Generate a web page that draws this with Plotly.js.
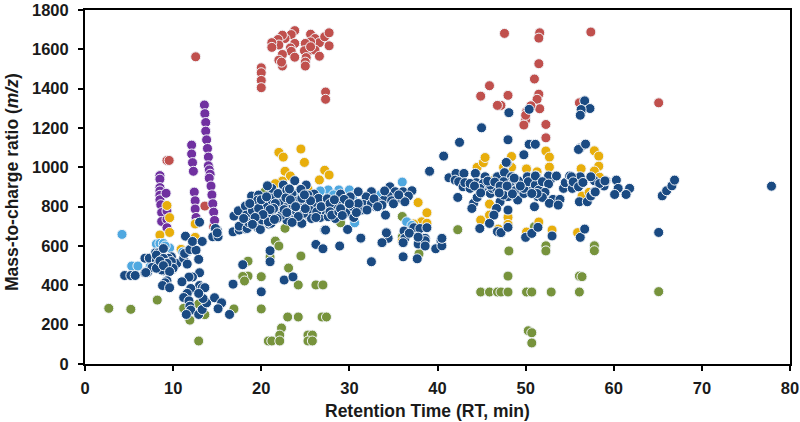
<!DOCTYPE html>
<html>
<head>
<meta charset="utf-8">
<script src="https://cdn.plot.ly/plotly-3.0.1.min.js"></script>
<style>html,body{margin:0;padding:0;background:#fff}</style>
</head>
<body>
<div id="chart" style="width:800px;height:422px"></div>
<script>
const redPoints = [[12.56,1562],[9.3,1035],[9.55,1035],[20,1506],[20,1481],[20,1442],[20,1405],
  [23.8,1695],[23.4,1675],[22.7,1655],[22.4,1672],[21.9,1650],[22,1622],[21.2,1634],[21.2,1610],[23.8,1630],[23.3,1607],[23.4,1590],[22.4,1574],[22,1545],[22.4,1515],[22.3,1535],[23.8,1560],
  [25.6,1677],[26.1,1655],[26.6,1634],[25.6,1638],[25.6,1596],[25,1630],[24.9,1593],[25.1,1558],[25,1535],[25,1515],[26.1,1596],[26.6,1565],[25.6,1613],[27.2,1664],[27.7,1684],[27.7,1618],[27.3,1383],[27.3,1346],
  [47.6,1681],[51.6,1684],[51.5,1657],[51.5,1527],[51,1449],[51.5,1372],[51.3,1346],[51.6,1298],[50.6,1313],[50.1,1282],[50,1240],[49.8,1215],[50,1265],[52.3,1218],[52.3,1150],[45.9,1415],[44.9,1362],[48,1366],[47.2,1315],[46.8,1315],[65.1,1328],[56.1,1328],[57.4,1688],[13.6,803],[14.6,698]];

const purplePoints = [[13.55,1317],[13.6,1273],[13.7,1228],[13.7,1184],[13.8,1140],[13.9,1096],[14,1052],[14,1008],[14.1,987],[14.2,965],[14.1,945],[14.3,905],[14.4,860],[14.5,815],[14.6,772],[14.7,730],
  [12.1,1113],[12.1,1068],[12.2,1024],[12.3,980],[12.4,874],[12.5,830],[12.5,788],[12.6,745],[12.6,715],
  [8.5,958],[8.5,940],[8.5,897],[8.5,880],[8.5,858],[8.5,835],[8.6,810],[8.7,770],[8.7,725],[9.2,868],[9.3,778],[9.3,735],[9.3,693]];

const greenPoints = [[2.7,283],[5.2,278],[8.2,325],[11.2,283],[11.9,223],[12.9,117],[13.6,251],[12.9,305],[16.9,280],[20,280],[20,444],[18.5,523],[18.5,447],[17.9,445],[18.1,422],[21,544],[21.6,625],[22,600],[24.5,549],[23.1,488],[24.2,402],[26.2,402],[27,402],[23,239],[24.2,239],[26.9,239],[27.4,239],[22.3,183],[22.1,147],[20.8,117],[21.2,117],[22.1,117],[25.3,147],[25.8,147],[25.3,117],[25.8,117],[22.7,690],[20.4,875],
  [29,718],[36,750],[36,645],[37.9,560],[42.3,683],[48.1,575],[48,447],[44.9,366],[45.9,366],[46.8,366],[47.2,366],[48,366],[50.1,366],[50.7,366],[52.9,366],[56.1,366],[56.1,447],[50.3,169],[50.7,159],[50.7,107],[52.3,601],[52.3,575],[51,698],[57.8,601],[57.8,576],[56.4,444],[65.1,368]];

const yellowPoints = [[9.3,806],[9.6,744],[9.6,669],[8.5,656],[10.9,583],[12.5,712],[12.5,644],[22,1076],[22.5,1052],[24.5,1093],[24.9,1025],[22.7,980],[23.3,956],[22.4,930],[26.6,936],[27.2,985],[21.6,917],[27.7,961],[25.3,890],[19.2,830],[17.6,760],
  [44.5,1000],[45.2,1024],[45.4,1050],[48.4,1055],[48.4,1000],[50.1,992],[47.5,1000],[51.3,977],[52.3,1083],[52.7,1052],[52.7,1001],[46.6,945],
  [37.8,821],[38.8,769],[38.2,723],[38.8,716],[37.3,712],[36,625],[45.9,813],[45.9,757],[44.9,732],[48,746],[46.9,686],[50.1,671],[51.5,722],[53,681],[48,710],
  [57.8,1084],[58.3,1057],[58.3,1006],[56.3,993],[57.8,981],[58.4,950],[56.4,854],[57.2,873],[55.9,668]];

const lightBluePoints = [[4.2,659],[5.3,498],[6,498],[8.1,610],[8.5,613],[8.9,613],[9.6,590],[11.1,569],[11.6,569],[9.3,488],[7.4,495],[9.1,600],
  [27.6,885],[28.8,885],[30,885],[36,925],[30.4,854],[30.6,718],[33.5,859],[36.5,723],[28.2,860],[31.5,818],[26.7,880],[24.2,870],[37.1,705]];

const bluePoints = [
  // first group, around 10 min
  [4.5,450],[5.2,450],[5.7,450],[6.8,464],[7.1,467],[6.8,538],[7.3,538],[8,565],[8.3,565],[8.9,587],[8.5,528],[8.1,528],[8.5,486],[8.9,474],[8.2,503],[7.6,491],[9.8,545],[9.9,481],[10.4,511],[9.3,503],[8.9,528],[9.5,520],[11.2,537],[11.3,562],[11.6,508],[11.9,582],[12.6,579],[12.9,532],[11.4,650],[12.2,623],[13.3,623],[13,721],[14.5,647],[15.1,647],[15,681],[14.8,689],[15,667],
  [8.1,554],[8.7,512],[9.5,537],[8.9,537],[9.8,521],[8.7,478],[8.1,487],[10,487],[6.9,465],[9.3,512],[8.5,524],[8.9,500],[9.6,470],
  [13,464],[12.2,442],[11.8,442],[11,418],[9.3,423],[9.1,413],[8.8,399],[9.6,388],[13,399],[13.3,388],[13.6,388],[12,384],[11.6,359],[11.2,338],[11.8,321],[11.9,294],[12,274],[11.5,252],[12.9,252],[13.3,277],[13.8,311],[13.4,333],[12.9,359],[14.7,337],[15.5,311],[15.1,281],[16.4,252],
  [16.8,406],[17.9,505],[20,367],[21,576],[21,520],[22.6,427],[23.6,443],[26.2,608],[27,586],
  // main band, 17 to 40 min
  [16.8,672],[17.5,681],[18.3,686],[17.5,701],[16.9,752],[17.4,779],[18.2,803],[18.3,757],[19,779],[18.9,854],[19.7,859],[19.8,694],[20.9,711],
  [19.6,833],[18.4,689],[18.6,718],[18,740],[19.6,694],[19.9,684],[20.4,774],[20.1,732],[21.1,715],[20.8,723],[21.4,850],[21.2,893],[20.7,906],[22.5,910],[23.8,932],[25.1,910],[24.5,888],[26,864],[25.3,859],[23.5,864],[22.4,837],[24,828],[26,820],[27.2,830],[28.2,816],[22.1,791],[23.3,766],[24.5,800],[25.5,749],[26.7,745],[27.2,681],[27.4,800],[22,752],[23.8,735],[22.3,816],[20.8,816],[21.6,816],[23.1,808],[25.2,816],[27.1,783],[28,766],[25.5,783],[24,774],[22.9,732],[24.6,715],[25.7,740],[21.2,766],[20.4,800],[19.7,791],[18.7,816],[21.4,791],[23.6,808],[24.8,766],[26.3,774],[27.6,749],[22.3,757],[26.5,842],[24.6,842],[21.9,867],[22.9,884],
  [20,835],[20.6,850],[21,785],[21.8,740],[22.6,785],[22.8,845],[23.3,835],[23.9,800],[24.2,750],[25,790],[25.6,830],[26.2,745],[26.8,800],[27.5,840],[22.9,770],[23.5,720],[20.2,760],[19.3,745],[19,710],[21.5,735],[24.9,860],[23.2,890],[27.9,795],
  [39.1,978],[34.6,901],[35.2,876],[36.1,876],[37.1,881],[36.7,854],[35.8,842],[34.4,854],[33.9,833],[33.1,825],[32.5,876],[31.9,850],[31,876],[30.1,850],[29,864],[29.4,837],[28.6,808],[27.8,816],[28.4,740],[29.6,769],[30.5,745],[30.4,800],[31.6,811],[31.4,783],[33,800],[32.5,816],[33.7,808],[34.8,830],[36.3,825],[34.1,757],[29.8,684],[31.3,639],[34.2,667],[34.4,639],[36.2,676],[37.3,693],[38,689],[38.8,693],[36.3,639],[38.6,639],[27.8,774],[28,757],[28.8,774],[31,816],[32,783],
  [29,790],[29.2,755],[30,815],[30.8,770],[28.3,835],[32.8,840],[35,815],[35.6,860],[34,880],[33.2,800],
  [31.3,640],[28.9,600],[32.5,520],[27.3,681],[34.2,667],[33.7,617],[36.1,617],[36.1,545],[37.7,535],[37.8,610],[38.6,627],[38.6,600],[39.8,586],[40.4,627],[40.5,601],[36.8,665],[37.8,645],
  // second group, 41 to 62 min
  [41.3,947],[42.1,969],[43,969],[42,935],[42.4,927],[42.9,901],[43.1,922],[43.7,893],[44.3,969],[44.4,922],[42.3,847],[44.1,817],[43.9,791],[44.5,847],[45.1,893],[45.4,952],[46,867],[46.2,893],[46.7,893],[46.8,952],[47.6,973],[47.9,1023],[48.4,952],[48.4,898],[48,851],[47.1,825],[46.7,791],[46.4,757],[45.9,715],[44.8,689],[46.8,673],[47.2,668],[48,695],[48,783],[48.2,922],[49.2,930],[49.1,834],[48.8,881],[49.8,867],[50.2,952],[51.2,956],[50.5,893],[49.8,893],[51,800],[52,867],[51.4,851],[52,927],[52.8,935],[40.5,639],[50,644],[50.7,664],[51.4,695],[47.5,859],[47.5,927],[45.2,918],[43.7,918],[46,910],[50.3,927],[51.1,910],[44.8,893],[51.5,884],
  [44.2,905],[44.9,870],[45.7,930],[46.5,925],[47.1,905],[47.9,905],[48.7,945],[49.4,905],[47,870],[48.5,865],
  [50.4,1295],[48.1,1278],[45,1201],[42.5,1127],[48,1140],[50.4,1117],[51.1,1117],[49.8,1064],[40.7,1057],[39.1,980],[47.8,1025],[56.4,1291],[56.2,1098],
  [51.1,956],[52.6,956],[53.5,956],[51.9,927],[52.6,915],[52.2,873],[51.9,847],[51.3,867],[50.7,867],[53.1,837],[53.9,837],[52.7,817],[53.7,808],[54.3,893],[54.5,922],[55,956],[55.3,927],[55.3,893],[56.2,952],[56.1,910],[56.1,825],[57,825],[57.4,854],[57.8,876],[57.8,932],[57.4,952],[58.9,905],[59.1,932],[60.3,935],[60.5,893],[60.1,862],[61.8,893],[61.4,862],[53,651],[56.2,644],[56.7,686],[58.4,918],
  [56.7,1338],[57.3,1299],[56.3,1294],[56.2,1265],[56,1091],[56.8,1118],[65.1,669],[65.5,855],[66,881],[66.6,906],[66.9,935],[77.9,904],[59,931],[55.2,952],[55.4,926],[56,901],[56.5,923],[57.9,875]
];

const xTicks = [0, 10, 20, 30, 40, 50, 60, 70, 80];
const yTicks = [0, 200, 400, 600, 800, 1000, 1200, 1400, 1600, 1800];

function dots(points, color) {
  return {
    x: points.map(p => p[0]),
    y: points.map(p => p[1]),
    type: 'scatter',
    mode: 'markers',
    cliponaxis: false,
    marker: {size: 10, color: color, line: {color: '#f2f5f9', width: 1}}
  };
}

const data = [
  dots(redPoints, '#c0504d'),
  dots(purplePoints, '#7030a0'),
  dots(greenPoints, '#77933c'),
  dots(yellowPoints, '#e8ae0b'),
  dots(lightBluePoints, '#4fa8e0'),
  dots(bluePoints, '#1a4a82')
];

const tickFont = {family: 'Liberation Sans', size: 16.5, color: '#1a1a1a', weight: 700};
const titleFont = {family: 'Liberation Sans', size: 17.5, color: '#1a1a1a', weight: 700};

const layout = {
  width: 800,
  height: 422,
  margin: {l: 85, r: 10, t: 10, b: 58},
  paper_bgcolor: '#fff',
  plot_bgcolor: '#fff',
  showlegend: false,
  xaxis: {
    range: [0, 80],
    tickvals: xTicks,
    ticks: 'outside',
    ticklen: 5,
    tickwidth: 2,
    tickcolor: '#000',
    ticklabelstandoff: 3,
    showgrid: false,
    zeroline: false,
    showline: true,
    mirror: true,
    linecolor: '#000',
    linewidth: 2,
    tickfont: tickFont
  },
  yaxis: {
    range: [0, 1800],
    tickvals: yTicks,
    ticks: 'outside',
    ticklen: 5,
    tickwidth: 2,
    tickcolor: '#000',
    ticklabelstandoff: 6,
    showgrid: false,
    zeroline: false,
    showline: true,
    mirror: true,
    linecolor: '#000',
    linewidth: 2,
    tickfont: tickFont
  },
  annotations: [
    {text: 'Retention Time (RT, min)', xref: 'paper', yref: 'paper', x: 0.4855, y: 0, yshift: -47, xanchor: 'center', yanchor: 'middle', showarrow: false, font: titleFont},
    {text: 'Mass-to-charge ratio (<i>m/z</i>)', xref: 'paper', yref: 'paper', x: 0, xshift: -73, y: 0.514, xanchor: 'center', yanchor: 'middle', textangle: -90, showarrow: false, font: titleFont}
  ]
};

Plotly.newPlot('chart', data, layout, {displayModeBar: false});
</script>
</body>
</html>
